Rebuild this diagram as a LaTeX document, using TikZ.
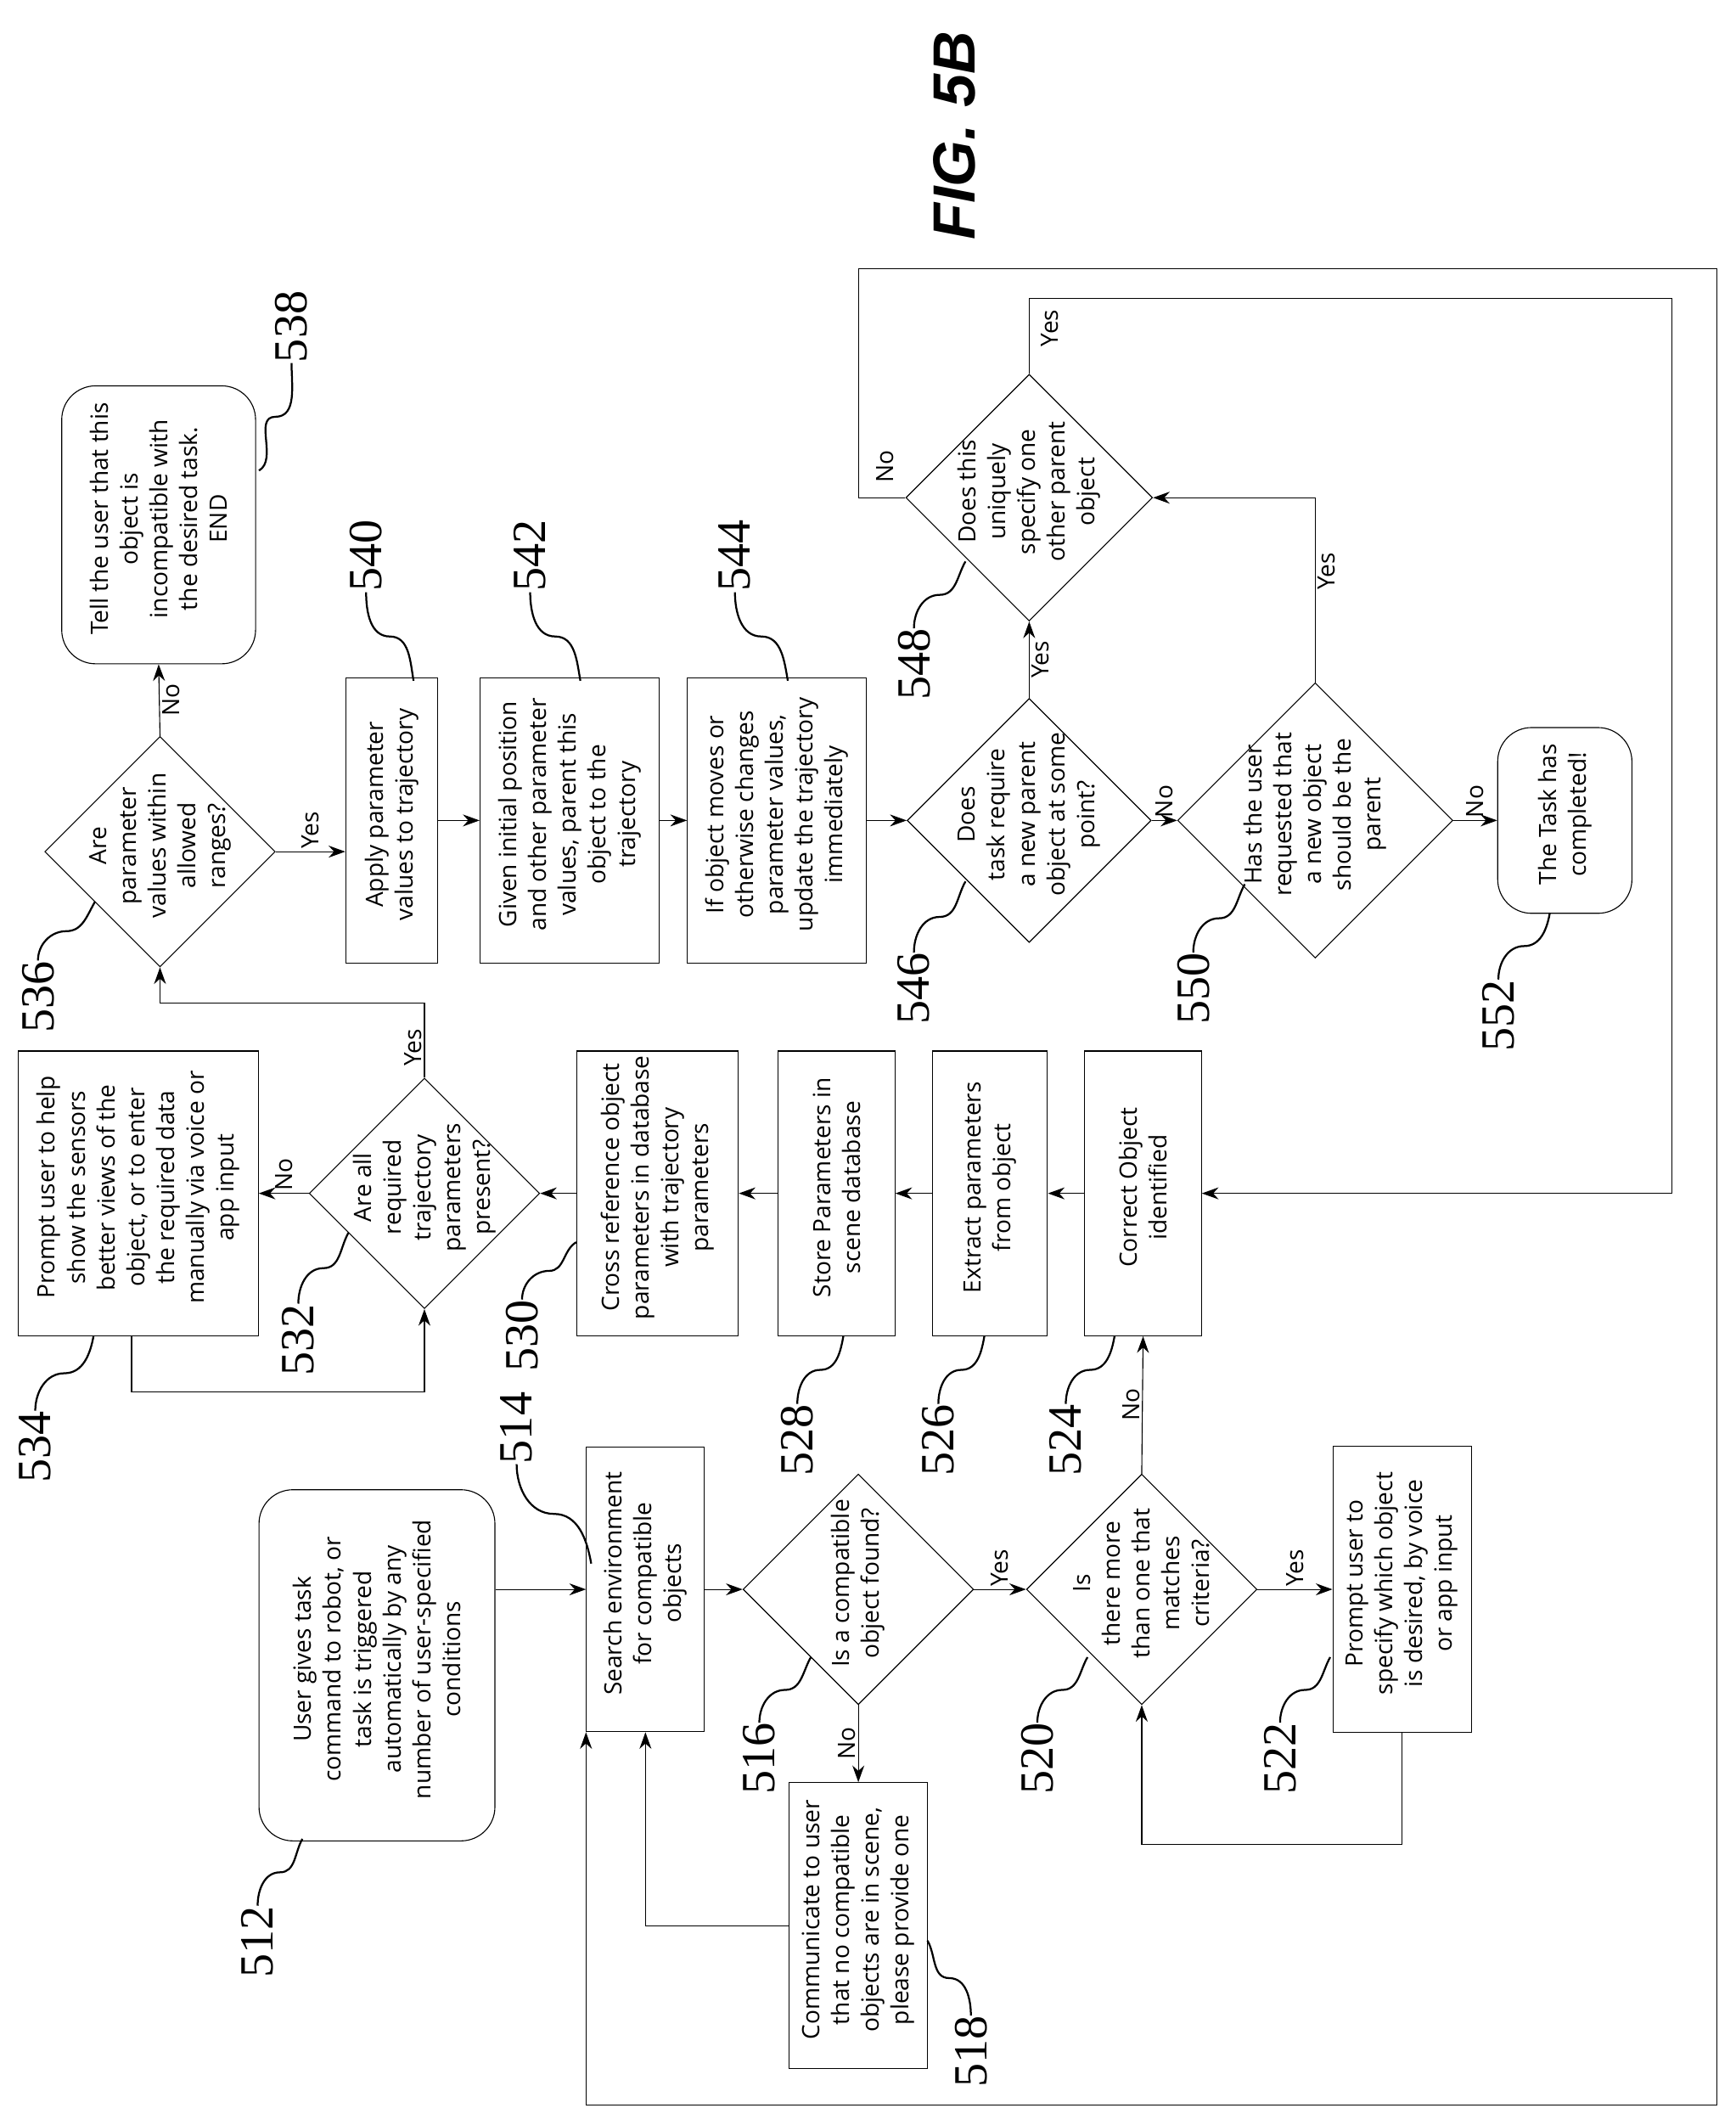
\documentclass[tikz,border=0pt]{standalone}
\usepackage{fontspec}
\setmainfont{Open Sans}
\newfontfamily\numfont{Liberation Serif}
\newfontfamily\figfont{Liberation Sans}
\usetikzlibrary{shapes.geometric,arrows.meta,calc}

% rotated text, takes no room
\newcommand{\vt}[2]{\makebox[0pt]{\smash{\rotatebox[origin=c]{90}{\parbox[c]{#1}{\centering #2}}}}}
\newcommand{\vn}[1]{\rotatebox[origin=c]{90}{#1}}
% leader line from a number to its part
\newcommand{\lead}[5]{\draw[lead] (#1) to[out=#3,in=#4] ($(#1)!0.5!(#2)$) to[out=#4+180,in=#5] (#2);}

\tikzset{
  box/.style={draw,thin,inner sep=0pt,font=\fontsize{10}{12.5}\selectfont},
  rbox/.style={box,rounded corners=0.5cm},
  dia/.style={draw,thin,diamond,inner sep=0pt,minimum width=#1,minimum height=#1,font=\fontsize{10}{12.5}\selectfont},
  arr/.style={thin,-{Stealth[length=7pt,width=5pt]}},
  lead/.style={thick},
  num/.style={font=\numfont\fontsize{20}{20}\selectfont,inner sep=0pt},
  yn/.style={font=\fontsize{10}{10}\selectfont,inner sep=1pt}
}

\begin{document}
\begin{tikzpicture}[x=0.02cm,y=-0.02cm]
  \useasboundingbox (0,0) rectangle (1280,1567);

  % left column
  \node[rbox,minimum width=3.48cm,minimum height=5.18cm] (s512) at (278,1228) {\vt{5cm}{User gives task\\ command to robot, or\\ task is triggered\\ automatically by any\\ number of user-specified\\ conditions}};
  \node[box,minimum width=1.74cm,minimum height=4.2cm] (s514) at (476,1172) {\vt{4cm}{Search environment\\ for compatible\\ objects}};
  \node[dia=3.4cm] (d516) at (633,1172) {\vt{3cm}{Is a compatible\\ object found?}};
  \node[box,minimum width=2.04cm,minimum height=4.22cm] (s518) at (633,1420) {\vt{4cm}{Communicate to user\\ that no compatible\\ objects are in scene,\\ please provide one}};
  \node[dia=3.4cm] (d520) at (842,1172) {\vt{3cm}{Is\\ there more\\ than one that\\ matches\\ criteria?}};
  \node[box,minimum width=2.04cm,minimum height=4.22cm] (s522) at (1034,1172) {\vt{4cm}{Prompt user to\\ specify which object\\ is desired, by voice\\ or app input}};

  % middle row
  \node[box,minimum width=1.72cm,minimum height=4.2cm] (s524) at (843,880) {\vt{4cm}{Correct Object\\ identified}};
  \node[box,minimum width=1.7cm,minimum height=4.2cm] (s526) at (730,880) {\vt{4cm}{Extract parameters\\ from object}};
  \node[box,minimum width=1.72cm,minimum height=4.2cm] (s528) at (617,880) {\vt{4cm}{Store Parameters in\\ scene database}};
  \node[box,minimum width=2.38cm,minimum height=4.2cm] (s530) at (485,880) {\vt{4cm}{Cross reference object\\ parameters in database\\ with trajectory\\ parameters}};
  \node[dia=3.4cm] (d532) at (313,880) {\vt{3cm}{Are all\\ required\\ trajectory\\ parameters\\ present?}};
  \node[box,minimum width=3.54cm,minimum height=4.2cm] (s534) at (102,880) {\vt{4cm}{Prompt user to help\\ show the sensors\\ better views of the\\ object, or to enter\\ the required data\\ manually via voice or\\ app input}};

  % top row
  \node[dia=3.4cm] (d536) at (118,628) {\vt{3cm}{Are\\ parameter\\ values within\\ allowed\\ ranges?}};
  \node[rbox,minimum width=2.86cm,minimum height=4.1cm] (s538) at (117,387) {\vt{4cm}{Tell the user that this\\ object is\\ incompatible with\\ the desired task.\\ END}};
  \node[box,minimum width=1.36cm,minimum height=4.2cm] (s540) at (289,605) {\vt{4cm}{Apply parameter\\ values to trajectory}};
  \node[box,minimum width=2.64cm,minimum height=4.2cm] (s542) at (420,605) {\vt{4cm}{Given initial position\\ and other parameter\\ values, parent this\\ object to the\\ trajectory}};
  \node[box,minimum width=2.64cm,minimum height=4.2cm] (s544) at (573,605) {\vt{4cm}{If object moves or\\ otherwise changes\\ parameter values,\\ update the trajectory\\ immediately}};
  \node[dia=3.6cm] (d546) at (759,605) {\vt{3cm}{Does\\ task require\\ a new parent\\ object at some\\ point?}};
  \node[dia=3.64cm] (d548) at (759,367) {\vt{3cm}{Does this\\ uniquely\\ specify one\\ other parent\\ object}};
  \node[dia=4.06cm] (d550) at (970,605) {\vt{3cm}{Has the user\\ requested that\\ a new object\\ should be the\\ parent}};
  \node[rbox,minimum width=1.98cm,minimum height=2.74cm] (s552) at (1154,605) {\vt{2.6cm}{The Task has\\ completed!}};

  \node[font=\figfont\fontsize{25}{25}\selectfont\bfseries\itshape,inner sep=0pt] (fig) at (704,100) {\vn{FIG. 5B}};

  % connectors
  \draw[arr] (s512.east |- s514.west) -- (s514.west);
  \draw[arr] (s514.east) -- (d516.west);
  \draw[arr] (d516.east) -- node[yn,above] (y516) {\vn{Yes}} (d520.west);
  \draw[arr] (d516.south) -- node[yn,left] (n516) {\vn{No}} (s518.north);
  \draw[arr] (s518.west) -| (s514.south);
  \draw[arr] (d520.east) -- node[yn,above] (y520) {\vn{Yes}} (s522.west);
  \draw[arr] (s522.south) -- ++(0,82) -| (d520.south);
  \draw[arr] (d520.north) -- node[yn,left] (n520) {\vn{No}} (s524.south);
  \draw[arr] (s524.west) -- (s526.east);
  \draw[arr] (s526.west) -- (s528.east);
  \draw[arr] (s528.west) -- (s530.east);
  \draw[arr] (s530.west) -- (d532.east);
  \draw[arr] (d532.west) -- node[yn,above] (n532) {\vn{No}} (s534.east);
  \draw[arr] (s534.south -| 97,0) -- ++(0,41) -| (d532.south);
  \draw[arr] (d532.north) -- ++(0,-55) node[yn,pos=0.4,left] (y532) {\vn{Yes}} -| (d536.south);
  \draw[arr] (d536.north) -- node[yn,right] (n536) {\vn{No}} (s538.south);
  \draw[arr] (d536.east) -- node[yn,above] (y536) {\vn{Yes}} (d536.east -| s540.west);
  \draw[arr] (s540.east) -- (s542.west);
  \draw[arr] (s542.east) -- (s544.west);
  \draw[arr] (s544.east) -- (d546.west);
  \draw[arr] (d546.north) -- node[yn,right] (y546) {\vn{Yes}} (d548.south);
  \draw[arr] (d546.east) -- node[yn,above] (n546) {\vn{No}} (d550.west);
  \draw[arr] (d550.north) |- node[yn,pos=0.3,right] (y550) {\vn{Yes}} (d548.east);
  \draw[arr] (d550.east) -- node[yn,above] (n550) {\vn{No}} (s552.west);
  \draw[arr] (d548.west) -| (633,198) -| (1266,1552) -| (s514.south west);
  \draw[arr] (d548.north) |- (1233,220) |- (s524.east);
  \node[yn] (n548) at (653,344) {\vn{No}};
  \node[yn] (y548) at (774,242) {\vn{Yes}};

  % reference numbers
  \node[num] (r512) at (190,1432) {\vn{512}};
  \node[num] (r514) at (381,1053) {\vn{514}};
  \node[num] (r516) at (560,1297) {\vn{516}};
  \node[num] (r518) at (716,1513) {\vn{518}};
  \node[num] (r520) at (765,1297) {\vn{520}};
  \node[num] (r522) at (944,1297) {\vn{522}};
  \node[num] (r524) at (786,1062) {\vn{524}};
  \node[num] (r526) at (692,1062) {\vn{526}};
  \node[num] (r528) at (588,1062) {\vn{528}};
  \node[num] (r530) at (385,985) {\vn{530}};
  \node[num] (r532) at (220,988) {\vn{532}};
  \node[num] (r534) at (26,1067) {\vn{534}};
  \node[num] (r536) at (28,735) {\vn{536}};
  \node[num] (r538) at (215,241) {\vn{538}};
  \node[num] (r540) at (270,410) {\vn{540}};
  \node[num] (r542) at (391,410) {\vn{542}};
  \node[num] (r544) at (542,410) {\vn{544}};
  \node[num] (r546) at (674,729) {\vn{546}};
  \node[num] (r548) at (674,490) {\vn{548}};
  \node[num] (r550) at (880,729) {\vn{550}};
  \node[num] (r552) at (1105,749) {\vn{552}};

  \lead{r512.north}{223,1356}{90}{180}{-120}
  \lead{r514.south}{436,1153}{-90}{180}{100}
  \lead{r516.north}{598,1222}{90}{180}{-120}
  \lead{r518.north}{684,1431}{90}{0}{-60}
  \lead{r520.north}{802,1222}{90}{180}{-120}
  \lead{r522.north}{981,1222}{90}{180}{-120}
  \lead{r524.north}{822,985}{90}{180}{-100}
  \lead{r526.north}{726,985}{90}{180}{-100}
  \lead{r528.north}{622,985}{90}{180}{-100}
  \lead{r530.north}{425,916}{90}{180}{-150}
  \lead{r532.north}{257,909}{90}{180}{-120}
  \lead{r534.north}{69,985}{90}{180}{-100}
  \lead{r536.north}{70,665}{90}{180}{-120}
  \lead{r538.south}{191,347}{-90}{0}{30}
  \lead{r540.south}{305,502}{-90}{180}{100}
  \lead{r542.south}{428,502}{-90}{180}{100}
  \lead{r544.south}{581,502}{-90}{180}{100}
  \lead{r546.north}{712,650}{90}{180}{-120}
  \lead{r548.north}{712,414}{90}{180}{-120}
  \lead{r550.north}{918,652}{90}{180}{-120}
  \lead{r552.north}{1143,673}{90}{180}{-100}
\end{tikzpicture}
\end{document}
